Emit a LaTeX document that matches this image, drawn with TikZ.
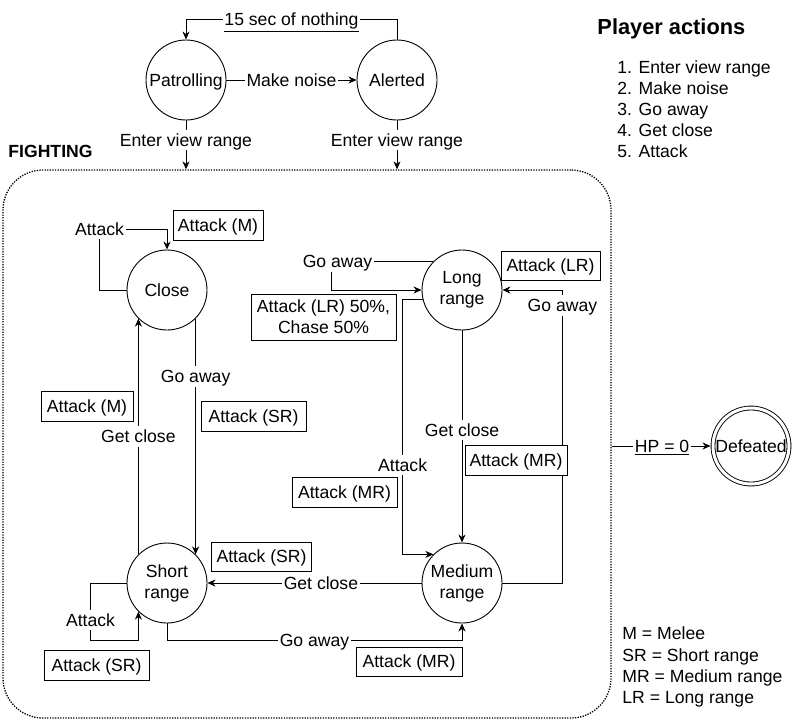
\documentclass[tikz,border=0pt]{standalone}
\usepackage{fontspec}
\setmainfont{Liberation Sans}
\usetikzlibrary{arrows.meta}
\begin{document}
\begin{tikzpicture}[x=1pt,y=-1pt,line width=0.9pt,
  every node/.style={font=\fontsize{17.6}{21}\selectfont, text height=12.6pt, text depth=0pt},
  state/.style={draw, circle, minimum size=80pt, inner sep=0pt, align=center},
  twoline/.style={text height=, text depth=, execute at begin node={\vspace*{3pt}}},
  box/.style={draw, fill=white, inner sep=0pt, align=center},
  lbl/.style={fill=white, inner xsep=1.5pt, inner ysep=4pt},
  txt/.style={inner sep=0pt, anchor=west},
  arr/.style={-{Stealth[length=8pt,width=7pt,inset=2.5pt]}},
  container/.style={draw, rounded corners=40pt, line width=1.3pt,
    dash pattern=on 1.3pt off 1.3pt, minimum width=608pt, minimum height=548pt}]
\useasboundingbox (0,0) rectangle (802,721);

% fighting region
\node[container] (fight) at (307,444) {};
\node[txt, font=\bfseries\fontsize{17.6}{21}\selectfont] (fighting) at (8,151) {FIGHTING};

% states
\node[state] (patrol) at (186,80) {Patrolling};
\node[state] (alerted) at (397,80) {Alerted};
\node[state] (close) at (167,290) {Close};
\node[state, twoline] (short) at (167,583) {Short\\range};
\node[state, twoline] (long) at (462,290) {Long\\range};
\node[state, twoline] (medium) at (462,583) {Medium\\range};
\node[state, double, double distance=3pt, minimum size=76pt] (defeated) at (751,446) {Defeated};

% outside the fight
\draw[arr] (alerted.north) -- ++(0,-20) -| node[lbl,pos=0.25]{\underline{15 sec of nothing}} (patrol.north);
\draw[arr] (patrol.east) -- node[lbl]{Make noise} (alerted.west);
\draw[arr] (patrol.south) -- node[lbl,pos=0.4]{Enter view range} (patrol.south |- fight.north);
\draw[arr] (alerted.south) -- node[lbl,pos=0.4]{Enter view range} (alerted.south |- fight.north);

% close / short range
\draw[arr] (close.west) -- ++(-27,0) -- ++(0,-61) node[lbl]{Attack} -| (close.north);
\draw[arr] (close.-45) -- node[lbl,pos=0.245]{Go away} (short.45);
\draw[arr] (short.135) -- node[lbl,pos=0.5]{Get close} (close.-135);
\draw[arr] (short.west) -- ++(-36,0) -- node[lbl,pos=0.65]{Attack} ++(0,57) -| (short.-135);
\draw[arr] (short.south) -- ++(0,17) -| node[lbl,pos=0.25]{Go away} (medium.south);

% long / medium range
\draw[arr] (long.135) -- node[lbl,pos=0.94]{Go away} ++(-102,0) |- (long.west);
\draw[arr] (long.193) -- ++(-20,0) |- node[lbl,pos=0.325]{Attack} (medium.135);
\draw[arr] (long.south) -- node[lbl,pos=0.47]{Get close} (medium.north);
\draw[arr] (medium.east) -- ++(60,0) |- node[lbl,pos=0.474]{Go away} (long.east);
\draw[arr] (medium.west) -- node[lbl,pos=0.47]{Get close} (short.east);

% defeat
\draw[arr, shorten >=2pt] (fight.east |- defeated.west) -- node[lbl]{\underline{HP = 0}} (defeated.west);

% enemy responses
\node[box, minimum width=90pt, minimum height=30pt] (rc1) at (218,225.5) {Attack (M)};
\node[box, minimum width=92pt, minimum height=30pt] (rc2) at (87,406) {Attack (M)};
\node[box, minimum width=105pt, minimum height=30pt] (rs1) at (253.5,416) {Attack (SR)};
\node[box, minimum width=100pt, minimum height=29pt] (rs2) at (261.5,556.5) {Attack (SR)};
\node[box, minimum width=105pt, minimum height=30pt] (rs3) at (96.5,665) {Attack (SR)};
\node[box, minimum width=99pt, minimum height=29pt] (rl1) at (550.5,265.5) {Attack (LR)};
\node[box, twoline, minimum width=145pt, minimum height=46pt] (rl2) at (323.5,317) {Attack (LR) 50\%,\\Chase 50\%};
\node[box, minimum width=105pt, minimum height=30pt] (rm1) at (344.5,492) {Attack (MR)};
\node[box, minimum width=102pt, minimum height=30pt] (rm2) at (516,460) {Attack (MR)};
\node[box, minimum width=106pt, minimum height=29pt] (rm3) at (409,661.5) {Attack (MR)};

% player actions
\node[txt, font=\bfseries\fontsize{21.8}{26}\selectfont, text height=15.6pt] (title) at (597,27) {Player actions};
\node[txt] (a1) at (617,67) {1. Enter view range};
\node[txt] (a2) at (617,88) {2. Make noise};
\node[txt] (a3) at (617,109) {3. Go away};
\node[txt] (a4) at (617,130) {4. Get close};
\node[txt] (a5) at (617,151) {5. Attack};

% abbreviations
\node[txt] (k1) at (622,633) {M = Melee};
\node[txt] (k2) at (622,655) {SR = Short range};
\node[txt] (k3) at (622,676) {MR = Medium range};
\node[txt] (k4) at (622,697) {LR = Long range};
\end{tikzpicture}
\end{document}
